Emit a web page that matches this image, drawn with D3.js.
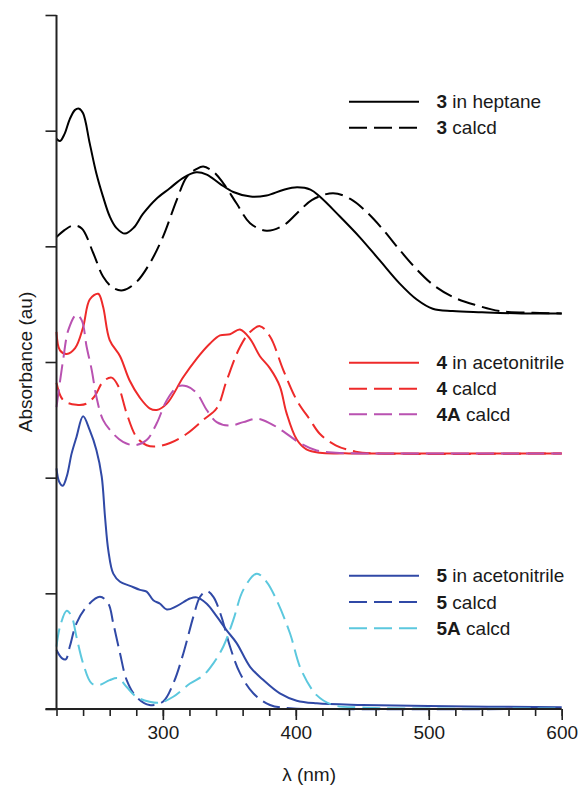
<!DOCTYPE html>
<html>
<head>
<meta charset="utf-8">
<script src="https://cdn.jsdelivr.net/npm/d3@7/dist/d3.min.js"></script>
<style>
  html, body { margin: 0; padding: 0; background: #fff; }
  svg { display: block; }
  text { font-family: "Liberation Sans", Arial, Helvetica, sans-serif; fill: #1a1a1a; }
</style>
</head>
<body>
<svg id="chart" width="578" height="789"></svg>
<script>
// ---- Data (wavelength in nm, absorbance in arbitrary units, offset stacked) ----
const heptane3Nm  = [220,222.6,226,230,234,237,240,245,250,255,260,265,271.5,278,285,295,305,315,325,333,343,353,366,378,391,401,411,418,433,448,463,478,491,503,518,540,570,600];
const heptane3Abs = [4.93,4.91,4.97,5.10,5.18,5.19,5.15,4.89,4.63,4.43,4.26,4.16,4.11,4.16,4.28,4.41,4.50,4.59,4.64,4.62,4.54,4.47,4.43,4.44,4.49,4.51,4.49,4.43,4.26,4.08,3.88,3.68,3.54,3.46,3.44,3.43,3.42,3.42];

const calcd3Nm  = [220,226,232.6,239,247.7,255,262.7,270,280,290,300,310.4,318,325.5,330.4,338,345.5,355.5,365.6,378,390.6,403,412,428,441,453,466,478,491,503,518.5,536,553.6,578.6,600];
const calcd3Abs = [4.08,4.14,4.18,4.155,3.94,3.74,3.64,3.62,3.69,3.85,4.08,4.40,4.60,4.67,4.69,4.645,4.545,4.37,4.20,4.135,4.18,4.31,4.40,4.46,4.41,4.30,4.14,3.97,3.80,3.67,3.56,3.49,3.44,3.425,3.42];

const acn4Nm  = [220,222.6,227.7,234,240,245,251.4,255,260,267.8,275,282.8,290,295.4,303,315.4,325.5,335.5,343,350.5,358,365.6,373,380.6,388,393,400.7,408,418,440,600];
const acn4Abs = [3.26,3.10,3.07,3.12,3.30,3.54,3.59,3.48,3.19,3.05,2.84,2.69,2.60,2.585,2.64,2.87,3.03,3.16,3.23,3.24,3.28,3.20,3.05,2.945,2.79,2.56,2.33,2.245,2.215,2.21,2.21];

const calcd4Nm  = [220,225,235,242.7,249,255,261.5,266.5,272.8,280,287.8,295.4,305.4,318,330.4,340.5,348,358,365.6,373,380.6,390.6,400.7,410.7,418,430,445,460,600];
const calcd4Abs = [2.82,2.67,2.63,2.64,2.71,2.83,2.865,2.79,2.555,2.355,2.28,2.27,2.30,2.38,2.50,2.60,2.84,3.13,3.26,3.31,3.22,2.93,2.67,2.50,2.38,2.28,2.225,2.21,2.21];

const calcd4ANm  = [220,225,229,235,239,242.7,246.5,250,255,262.7,270,279,287.8,295.4,303,311.6,318,325.5,333,340.5,350.5,360.5,370.6,380.6,390.6,403,415.7,430,450,600];
const calcd4AAbs = [2.61,3.02,3.28,3.41,3.36,3.13,2.93,2.70,2.50,2.38,2.31,2.28,2.325,2.47,2.67,2.79,2.79,2.73,2.585,2.48,2.45,2.48,2.51,2.47,2.40,2.30,2.235,2.215,2.21,2.21];

const acn5Nm  = [220,222,224.7,227.7,231.4,235,240,245,250,254,256.5,259,262.7,267.8,275.3,282.8,287.8,292.8,297.9,303,310.4,320.4,325.5,333,340.5,348,355.5,365.6,375.6,388,400.7,415.7,450,500,600];
const acn5Abs = [2.08,1.965,1.93,2.01,2.21,2.35,2.53,2.41,2.24,2.01,1.66,1.37,1.17,1.10,1.065,1.03,1.015,0.94,0.91,0.86,0.89,0.955,0.965,0.91,0.80,0.68,0.57,0.365,0.25,0.135,0.072,0.049,0.035,0.025,0.015];

const calcd5Nm  = [220,224,227,230,235,242.7,252.7,259,262.7,267.8,272.8,280,290,300,307.8,315.4,323,328,333,338,344,350.5,358,368,380.6,395.6,420,600];
const calcd5Abs = [0.51,0.44,0.43,0.54,0.74,0.885,0.97,0.91,0.74,0.48,0.25,0.106,0.035,0.063,0.22,0.48,0.80,0.97,1.02,0.97,0.80,0.54,0.31,0.136,0.035,0.006,0,0];

const calcd5ANm  = [220,222.6,227.7,231.4,235,240,246.5,252.7,260,266.5,272.8,280,290,297.9,307.8,320.4,330.4,338,345.5,353,360.5,370.6,378,385.6,395.6,404,415.7,428,450,600];
const calcd5AAbs = [0.54,0.71,0.85,0.80,0.625,0.395,0.22,0.21,0.25,0.265,0.19,0.106,0.063,0.055,0.106,0.22,0.29,0.395,0.54,0.77,1.03,1.17,1.10,0.94,0.655,0.34,0.12,0.035,0.012,0.005];

// axis ticks
const xMajorTicks = [300, 400, 500, 600];
const xMinorTicks = d3.range(220, 601, 20);
const yTicks = [0, 1, 2, 3, 4, 5, 6];

// series definitions: [bold label, rest of label, colour, dashed?, nm, abs]
const seriesLabelsBold = ["3", "3", "4", "4", "4A", "5", "5", "5A"];
const seriesLabelsRest = [" in heptane", " calcd", " in acetonitrile", " calcd", " calcd", " in acetonitrile", " calcd", " calcd"];
const seriesColors = ["#000000", "#000000", "#ee2a2a", "#ee2a2a", "#b952b1", "#3049a6", "#3049a6", "#5cc8de"];
const seriesDashed = [false, true, false, true, true, false, true, true];
const seriesNm  = [heptane3Nm, calcd3Nm, acn4Nm, calcd4Nm, calcd4ANm, acn5Nm, calcd5Nm, calcd5ANm];
const seriesAbs = [heptane3Abs, calcd3Abs, acn4Abs, calcd4Abs, calcd4AAbs, acn5Abs, calcd5Abs, calcd5AAbs];

// ---- Drawing ----
const svg = d3.select("#chart");
svg.append("rect").attr("width", 578).attr("height", 789).attr("fill", "#fff");

const x = d3.scaleLinear().domain([220, 600]).range([56.5, 561.7]);
const y = d3.scaleLinear().domain([0, 6]).range([709, 15]);

const line = d3.line()
  .x(d => x(d[0]))
  .y(d => y(d[1]))
  .curve(d3.curveCatmullRom.alpha(0.5));

const curves = svg.append("g");
seriesNm.forEach((nm, i) => {
  const pts = nm.map((v, j) => [v, seriesAbs[i][j]]);
  curves.append("path")
    .attr("d", line(pts))
    .attr("fill", "none")
    .attr("stroke", seriesColors[i])
    .attr("stroke-width", 2)
    .attr("stroke-linejoin", "round")
    .attr("stroke-dasharray", seriesDashed[i] ? "18,7" : null);
});

// axes
const axisColor = "#222";
const xAxisMinor = d3.axisBottom(x).tickValues(xMinorTicks).tickSize(7).tickFormat("");
const xAxisMajor = d3.axisBottom(x).tickValues(xMajorTicks).tickSize(11).tickPadding(6).tickFormat(d3.format("d"));
const yAxis = d3.axisLeft(y).tickValues(yTicks).tickSize(11).tickFormat("");

function styleAxis(g) {
  g.select(".domain").remove();
  g.selectAll(".tick line").attr("stroke", axisColor).attr("stroke-width", 1.6);
  g.selectAll(".tick text").attr("fill", "#1a1a1a")
    .style("font-family", "'Liberation Sans', Arial, sans-serif").style("font-size", "19px");
}

svg.append("g").attr("transform", `translate(0,${y(0)})`).call(xAxisMinor).call(styleAxis);
svg.append("g").attr("transform", `translate(0,${y(0)})`).call(xAxisMajor).call(styleAxis);
svg.append("g").attr("transform", `translate(${x(220)},0)`).call(yAxis).call(styleAxis);

// axis lines
svg.append("line").attr("x1", x(220)).attr("x2", x(220)).attr("y1", y(6)).attr("y2", y(0))
  .attr("stroke", axisColor).attr("stroke-width", 2);
svg.append("line").attr("x1", x(220) - 11).attr("x2", x(600)).attr("y1", y(0)).attr("y2", y(0))
  .attr("stroke", axisColor).attr("stroke-width", 2);

// axis titles
svg.append("text")
  .attr("x", (x(220) + x(600)) / 2).attr("y", 781)
  .attr("text-anchor", "middle").style("font-size", "19px")
  .text("λ (nm)");
svg.append("text")
  .attr("transform", `translate(32,${(y(0) + y(6)) / 2}) rotate(-90)`)
  .attr("text-anchor", "middle").style("font-size", "19px")
  .text("Absorbance (au)");

// legends
const legendRows = [101.7, 127.7, 362.7, 388.7, 414.3, 575.7, 602, 628.3];
const legend = svg.append("g");
seriesNm.forEach((_, i) => {
  const ly = legendRows[i];
  legend.append("line")
    .attr("x1", 349).attr("x2", 419).attr("y1", ly).attr("y2", ly)
    .attr("stroke", seriesColors[i]).attr("stroke-width", 2)
    .attr("stroke-dasharray", seriesDashed[i] ? "18,7" : null);
  const t = legend.append("text").attr("x", 436.5).attr("y", ly + 6.5).style("font-size", "19px");
  t.append("tspan").style("font-weight", "bold").text(seriesLabelsBold[i]);
  t.append("tspan").text(seriesLabelsRest[i]);
});
</script>
</body>
</html>
